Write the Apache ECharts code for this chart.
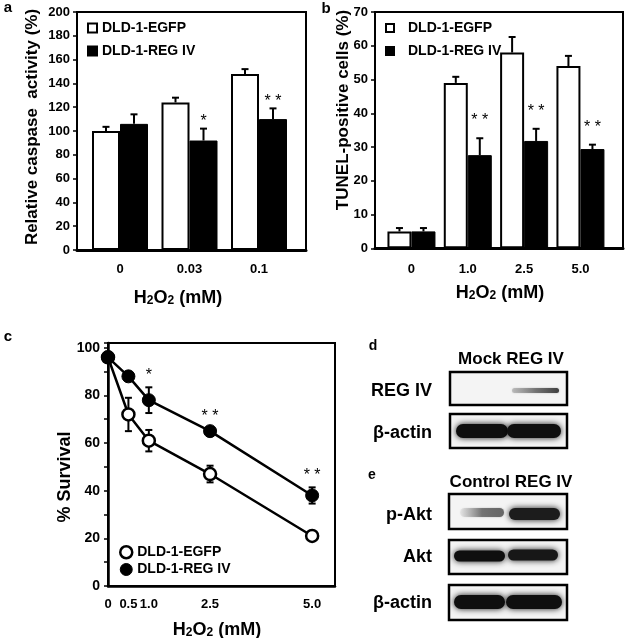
<!DOCTYPE html>
<html>
<head>
<meta charset="utf-8">
<script src="https://cdn.jsdelivr.net/npm/echarts@6/dist/echarts.min.js"></script>
<style>html,body{margin:0;padding:0;background:#fff}#c{width:625px;height:638px}</style>
</head>
<body>
<div id="c"></div>
<script>
// ---------- data ----------
const catsA = ['0', '0.03', '0.1'];
const egfpA = [100, 124, 148];
const egfpAErr = [3.5, 4, 4];
const regA = [106, 92, 110];
const regAErr = [8, 10, 9];
const sigA = ['', '*', '* *'];

const catsB = ['0', '1.0', '2.5', '5.0'];
const egfpB = [5, 49, 58, 54];
const egfpBErr = [1, 1.8, 4.6, 3];
const regB = [5, 27.6, 31.8, 29.4];
const regBErr = [1, 5, 3.6, 1.3];
const sigB = ['', '* *', '* *', '* *'];

const doseC = [0, 0.5, 1.0, 2.5, 5.0];
const doseLabelsC = ['0', '0.5', '1.0', '2.5', '5.0'];
const egfpC = [96, 72, 61, 47, 21];
const egfpCErr = [1, 7, 4.5, 3.5, 1];
const regC = [96, 88, 78, 65, 38];
const regCErr = [1, 1, 5.4, 1, 3.4];
const sigC = ['', '', '*', '* *', '* *'];

const seriesNames = ['DLD-1-EGFP', 'DLD-1-REG IV'];

// western blots (relative band intensity per lane)
const lanesD = ['Mock', 'REG IV'];
const rowsD = ['REG IV', 'β-actin'];
const bandsD = [[0, 0.7], [1, 1]];
const lanesE = ['Control', 'REG IV'];
const rowsE = ['p-Akt', 'Akt', 'β-actin'];
const bandsE = [[0.45, 0.92], [1, 0.95], [1, 1]];

// ---------- helpers ----------
const FONT = '"Liberation Sans", Arial, sans-serif';
const BOLD = 'bold';

function errRender(offset, both, sig, starGap) {
  return function (params, api) {
    const xi = api.value(0), v = api.value(1), e = api.value(2);
    const p = api.coord([xi, v]);
    const pt = api.coord([xi, v + e]);
    const x = p[0] + offset;
    const st = { stroke: '#000', lineWidth: 2 };
    const yb = both ? api.coord([xi, v - e])[1] : p[1];
    const ch = [
      { type: 'line', shape: { x1: x, y1: yb, x2: x, y2: pt[1] }, style: st },
      { type: 'line', shape: { x1: x - 3.5, y1: pt[1], x2: x + 3.5, y2: pt[1] }, style: st }
    ];
    if (both) ch.push({ type: 'line', shape: { x1: x - 3.5, y1: yb, x2: x + 3.5, y2: yb }, style: st });
    const s = sig ? sig[params.dataIndex] : '';
    if (s) ch.push({ type: 'text', style: { text: s, x: x, y: pt[1] - starGap, fill: '#000',
      font: '16px ' + FONT, textAlign: 'center', textVerticalAlign: 'middle' } });
    return { type: 'group', children: ch };
  };
}
function triples(xs, vs, es) { return vs.map((v, i) => [xs[i], v, es[i]]); }
const idx = arr => arr.map((_, i) => i);

function txt(text, x, y, size, opts) {
  return Object.assign({ type: 'text', x: x, y: y, style: Object.assign({ text: text, fill: '#000',
    font: BOLD + ' ' + size + 'px ' + FONT, textAlign: 'center', textVerticalAlign: 'middle' }, (opts && opts.style) || {}) },
    (opts && opts.el) || {});
}
function h2o2(x, y) {
  return { type: 'text', x: x, y: y, style: { text: 'H{s|2}O{s|2} (mM)', fill: '#000',
    font: BOLD + ' 18px ' + FONT, textAlign: 'center', textVerticalAlign: 'middle',
    rich: { s: { fontSize: 12, fontWeight: 'bold', fontFamily: FONT, verticalAlign: 'bottom' } } } };
}

function blotBox(box) {
  const [x, y, w, h] = box;
  return { type: 'rect', shape: { x: x, y: y, width: w, height: h },
    style: { fill: '#f4f4f4', stroke: '#000', lineWidth: 2.5 } };
}
function band(x, yc, w, bh, inten, fade) {
  if (!inten) return [];
  const g = Math.round(15 + (1 - inten) * 160);
  const col = 'rgb(' + g + ',' + g + ',' + g + ')';
  let fill = col;
  if (fade) {
    fill = { type: 'linear', x: 0, y: 0, x2: 1, y2: 0, colorStops: [
      { offset: 0, color: 'rgba(150,150,150,' + fade + ')' }, { offset: 0.5, color: 'rgba(90,90,90,0.75)' },
      { offset: 1, color: col }] };
  }
  return [{ type: 'rect', shape: { x: x, y: yc - bh / 2, width: w, height: bh, r: bh / 2 },
    style: { fill: fill, shadowBlur: fade ? 2 : 6, shadowColor: fade ? 'rgba(0,0,0,0.3)' : 'rgba(0,0,0,0.9)' } }];
}

const blotEls = [];
// panel d
const dBoxes = [[450, 372, 117, 33], [450, 414, 117, 34]];
const dLabelY = [391, 433];
blotEls.push(txt('d', 373, 346, 14));
blotEls.push(txt(lanesD.join(' '), 511, 359, 17));
rowsD.forEach((r, i) => {
  blotEls.push(txt(r, 432, dLabelY[i], 18, { style: { textAlign: 'right' } }));
  blotEls.push(blotBox(dBoxes[i]));
});
band(512, 390.5, 47, 5, bandsD[0][1], 0.45).forEach(e => blotEls.push(e));
band(456, 431, 52, 14, bandsD[1][0]).forEach(e => blotEls.push(e));
band(507, 431, 54, 14, bandsD[1][1]).forEach(e => blotEls.push(e));
// panel e
const eBoxes = [[449, 494, 118, 35], [449, 540, 118, 34], [449, 585, 118, 35]];
const eLabelY = [515, 557, 603];
blotEls.push(txt('e', 372, 475, 14));
blotEls.push(txt(lanesE.join(' '), 511, 482, 17));
rowsE.forEach((r, i) => {
  blotEls.push(txt(r, 432, eLabelY[i], 18, { style: { textAlign: 'right' } }));
  blotEls.push(blotBox(eBoxes[i]));
});
band(460, 512.5, 44, 9, bandsE[0][0], 0.1).forEach(e => blotEls.push(e));
band(509, 514, 51, 12, bandsE[0][1]).forEach(e => blotEls.push(e));
band(454, 556, 51, 11, bandsE[1][0]).forEach(e => blotEls.push(e));
band(508, 555, 50, 11, bandsE[1][1]).forEach(e => blotEls.push(e));
band(454, 602, 51, 14, bandsE[2][0]).forEach(e => blotEls.push(e));
band(506, 602, 56, 14, bandsE[2][1]).forEach(e => blotEls.push(e));

const axisFontA = { fontFamily: FONT, fontWeight: 'bold', fontSize: 13, color: '#000' };
const axisLine2 = { show: true, lineStyle: { color: '#000', width: 2 } };
const legendText = { fontFamily: FONT, fontWeight: 'bold', fontSize: 14, color: '#000' };

const option = {
  animation: false,
  backgroundColor: '#fff',
  grid: [
    { left: 77, top: 12, width: 229, height: 238, show: true, borderColor: '#000', borderWidth: 2, backgroundColor: 'transparent' },
    { left: 85.25, top: 12, width: 208.5, height: 238 },
    { left: 375, top: 12, width: 248, height: 236.3, show: true, borderColor: '#000', borderWidth: 2, backgroundColor: 'transparent' },
    { left: 383.3, top: 12, width: 225.3, height: 236.3 },
    { left: 108, top: 343, width: 227, height: 243, show: true, borderColor: '#000', borderWidth: 2, backgroundColor: 'transparent' }
  ],
  xAxis: [
    { gridIndex: 0, type: 'value', min: 0, max: 1, axisLine: { show: true, lineStyle: { color: '#000', width: 3 } }, axisTick: { show: false }, axisLabel: { show: false }, splitLine: { show: false } },
    { gridIndex: 1, type: 'category', data: catsA, axisLine: { show: false }, axisTick: { show: false }, axisLabel: Object.assign({ margin: 13 }, axisFontA) },
    { gridIndex: 2, type: 'value', min: 0, max: 1, axisLine: { show: true, lineStyle: { color: '#000', width: 3 } }, axisTick: { show: false }, axisLabel: { show: false }, splitLine: { show: false } },
    { gridIndex: 3, type: 'category', data: catsB, axisLine: { show: false }, axisTick: { show: false }, axisLabel: Object.assign({ margin: 15 }, axisFontA) },
    { gridIndex: 4, type: 'value', min: 0, max: 5.56, axisLine: { show: true, lineStyle: { color: '#000', width: 2.5 } }, axisTick: { show: false }, splitLine: { show: false },
      axisLabel: Object.assign({ margin: 12, customValues: doseC, formatter: v => { const i = doseC.indexOf(v); return i >= 0 ? doseLabelsC[i] : ''; } }, axisFontA, { fontSize: 13 }) }
  ],
  yAxis: [
    { gridIndex: 0, type: 'value', min: 0, max: 200, interval: 20, axisLine: axisLine2, axisTick: { show: true, length: 4, lineStyle: { color: '#000', width: 1.5 } }, splitLine: { show: false }, axisLabel: Object.assign({ margin: 7 }, axisFontA) },
    { gridIndex: 1, type: 'value', min: 0, max: 200, show: false, splitLine: { show: false } },
    { gridIndex: 2, type: 'value', min: 0, max: 70, interval: 10, axisLine: axisLine2, axisTick: { show: true, length: 4, lineStyle: { color: '#000', width: 1.5 } }, splitLine: { show: false }, axisLabel: Object.assign({ margin: 7 }, axisFontA) },
    { gridIndex: 3, type: 'value', min: 0, max: 70, show: false, splitLine: { show: false } },
    { gridIndex: 4, type: 'value', min: 0, max: 102, interval: 10, axisLine: { show: true, lineStyle: { color: '#000', width: 2.5 } }, axisTick: { show: true, length: 4, lineStyle: { color: '#000', width: 1.5 } }, splitLine: { show: false },
      axisLabel: Object.assign({ margin: 8, formatter: v => (v % 20 === 0 && v <= 100) ? String(v) : '' }, axisFontA, { fontSize: 14 }) }
  ],
  legend: [
    { data: seriesNames, left: 87, top: 21, padding: 0, orient: 'vertical', icon: 'rect', itemWidth: 9, itemHeight: 9, itemGap: 9,
      textStyle: legendText },
    { data: seriesNames, left: 385, top: 21, padding: 0, orient: 'vertical', icon: 'rect', itemWidth: 8, itemHeight: 8, itemGap: 9,
      textStyle: Object.assign({ padding: [0, 0, 0, 9] }, legendText) },
    { data: [
        { name: seriesNames[0], icon: 'circle', itemStyle: { color: '#fff', borderColor: '#000', borderWidth: 2.5 } },
        { name: seriesNames[1], icon: 'circle', itemStyle: { color: '#000', borderColor: '#000', borderWidth: 1 } }
      ], left: 119, top: 545, padding: 0, orient: 'vertical', itemWidth: 12, itemHeight: 12, itemGap: 3,
      textStyle: legendText }
  ],
  series: [
    // panel a
    { name: seriesNames[0], type: 'bar', xAxisIndex: 1, yAxisIndex: 1, data: egfpA, barWidth: 28, barGap: '0%',
      itemStyle: { color: '#fff', borderColor: '#000', borderWidth: 2 } },
    { name: seriesNames[1], type: 'bar', xAxisIndex: 1, yAxisIndex: 1, data: regA, barWidth: 28, barGap: '0%',
      itemStyle: { color: '#000', borderColor: '#000', borderWidth: 1 } },
    { type: 'custom', xAxisIndex: 1, yAxisIndex: 1, z: 3, data: triples(idx(catsA), egfpA, egfpAErr), renderItem: errRender(-14, false, null, 0) },
    { type: 'custom', xAxisIndex: 1, yAxisIndex: 1, z: 3, data: triples(idx(catsA), regA, regAErr), renderItem: errRender(14, false, sigA, 7) },
    // panel b
    { name: seriesNames[0], type: 'bar', xAxisIndex: 3, yAxisIndex: 3, data: egfpB, barWidth: 24, barGap: '0%',
      itemStyle: { color: '#fff', borderColor: '#000', borderWidth: 2 } },
    { name: seriesNames[1], type: 'bar', xAxisIndex: 3, yAxisIndex: 3, data: regB, barWidth: 24, barGap: '0%',
      itemStyle: { color: '#000', borderColor: '#000', borderWidth: 1 } },
    { type: 'custom', xAxisIndex: 3, yAxisIndex: 3, z: 3, data: triples(idx(catsB), egfpB, egfpBErr), renderItem: errRender(-12, false, null, 0) },
    { type: 'custom', xAxisIndex: 3, yAxisIndex: 3, z: 3, data: triples(idx(catsB), regB, regBErr), renderItem: errRender(12, false, sigB, 17.5) },
    // panel c
    { type: 'custom', xAxisIndex: 4, yAxisIndex: 4, z: 1, data: triples(doseC, egfpC, egfpCErr), renderItem: errRender(0, true, null, 0) },
    { type: 'custom', xAxisIndex: 4, yAxisIndex: 4, z: 1, data: triples(doseC, regC, regCErr), renderItem: errRender(0, true, sigC, 12) },
    { name: seriesNames[0], type: 'line', xAxisIndex: 4, yAxisIndex: 4, z: 2, data: doseC.map((d, i) => [d, egfpC[i]]),
      symbol: 'circle', symbolSize: 12, lineStyle: { color: '#000', width: 2.5 },
      itemStyle: { color: '#fff', borderColor: '#000', borderWidth: 2.5 } },
    { name: seriesNames[1], type: 'line', xAxisIndex: 4, yAxisIndex: 4, z: 2, data: doseC.map((d, i) => [d, regC[i]]),
      symbol: 'circle', symbolSize: 13, lineStyle: { color: '#000', width: 2.5 },
      itemStyle: { color: '#000', borderColor: '#000', borderWidth: 1 } }
  ],
  graphic: [
    txt('a', 8, 8, 15),
    txt('b', 326, 9, 15),
    txt('c', 8, 337, 15),
    txt('Relative caspase  activity (%)', 32, 127, 17, { el: { rotation: Math.PI / 2 } }),
    txt('TUNEL-positive cells (%)', 343, 110, 17, { el: { rotation: Math.PI / 2 } }),
    txt('% Survival', 65, 477, 18, { el: { rotation: Math.PI / 2 } }),
    h2o2(178, 298),
    h2o2(500, 293),
    h2o2(217, 630)
  ].concat(blotEls)
};

const chart = echarts.init(document.getElementById('c'), null, { renderer: 'canvas' });
chart.setOption(option);
</script>
</body>
</html>
